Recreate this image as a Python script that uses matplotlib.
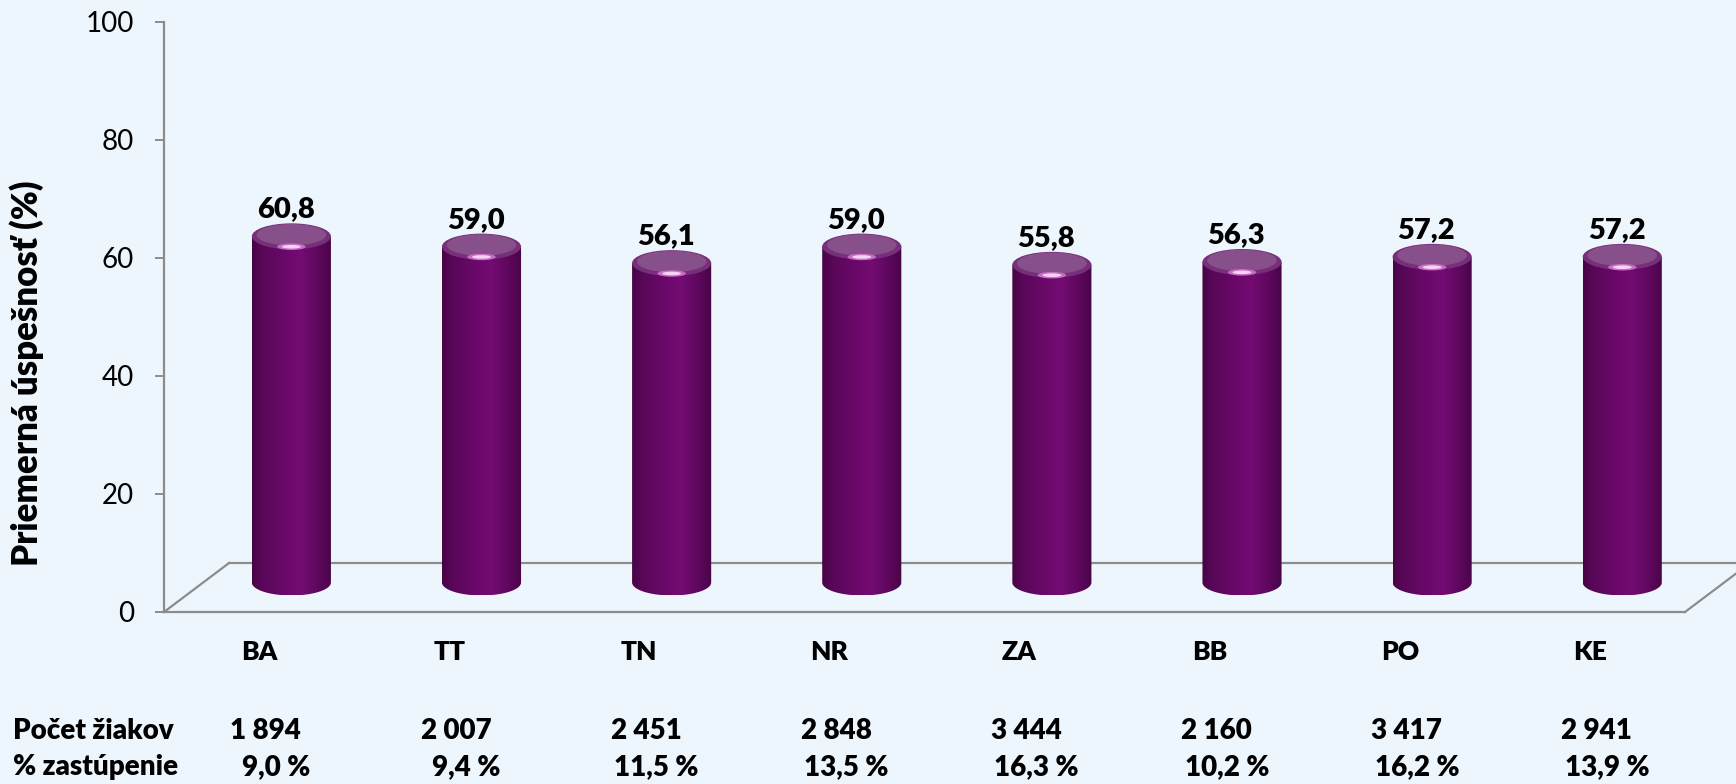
import numpy as np
import matplotlib.pyplot as plt
from matplotlib.path import Path
from matplotlib.patches import PathPatch, Ellipse
from matplotlib.colors import LinearSegmentedColormap
from matplotlib import transforms

# data
regions = ['BA', 'TT', 'TN', 'NR', 'ZA', 'BB', 'PO', 'KE']
success = [60.8, 59.0, 56.1, 59.0, 55.8, 56.3, 57.2, 57.2]
pupils = ['1 894', '2 007', '2 451', '2 848', '3 444', '2 160', '3 417', '2 941']
shares = ['9,0 %', '9,4 %', '11,5 %', '13,5 %', '16,3 %', '10,2 %', '16,2 %', '13,9 %']

plt.rcParams['font.family'] = ['Lato', 'DejaVu Sans']

bg = '#eef6fd'
grey = '#8c8c8c'
heavy = 'heavy'

fig = plt.figure(figsize=(17.36, 7.84), dpi=100, facecolor=bg)
ax = fig.add_axes([164 / 1736, 172 / 784, 1521 / 1736, 590 / 784])
ax.set_facecolor('none')

# pseudo 3d floor
dx, dy = 0.342, 8.3
n = len(regions)
ax.plot([0, dx], [0, dy], color=grey, lw=1.6, clip_on=False, zorder=1)
ax.plot([dx, n + dx], [dy, dy], color=grey, lw=1.6, clip_on=False, zorder=1)
ax.plot([n, n + dx], [0, dy], color=grey, lw=1.6, clip_on=False, zorder=1)
ax.plot([0, n], [0, 0], color=grey, lw=1.6, clip_on=False, zorder=1)

# cylinder look
body_cmap = LinearSegmentedColormap.from_list('cyl', [
    (0.0, '#460443'), (0.12, '#580758'), (0.45, '#6c096b'),
    (0.62, '#730c73'), (0.85, '#5c075c'), (1.0, '#480547')])
grad = np.linspace(0, 1, 256).reshape(1, -1)

width = 0.416
shift = 0.17
base = 5.0
scale = 0.965
e = 2.2
t_ang = np.linspace(np.pi, 2 * np.pi, 60)

for i, v in enumerate(success):
    c = i + 0.5 + shift
    x0, x1 = c - width / 2, c + width / 2
    top = base + v * scale
    ex = c + width / 2 * np.cos(t_ang)
    ey = base + e * np.sin(t_ang)
    verts = [(x0, top)] + list(zip(ex, ey)) + [(x1, top), (x0, top)]
    body = PathPatch(Path(verts), facecolor='none', edgecolor='none')
    ax.add_patch(body)
    im = ax.imshow(grad, extent=(x0, x1, base - e, top), aspect='auto',
                   cmap=body_cmap, zorder=3, interpolation='bilinear')
    im.set_clip_path(body)
    # top cap
    ax.add_patch(Ellipse((c, top), width, 2 * e, facecolor='#76307a',
                         edgecolor='none', zorder=4))
    ax.add_patch(Ellipse((c, top + 0.12 * e), width * 0.88, 1.65 * e,
                         facecolor='#88508b', edgecolor='none', zorder=4))
    ax.add_patch(Ellipse((c, top - 0.8 * e), width * 0.36, 0.5 * e,
                         facecolor='#c86cc4', edgecolor='none', zorder=5))
    ax.add_patch(Ellipse((c, top - 0.8 * e), width * 0.24, 0.28 * e,
                         facecolor='#f7d2f5', edgecolor='none', zorder=5))
    ax.text(c - 0.03, top + e + 1.0, f'{v:.1f}'.replace('.', ','),
            ha='center', va='baseline', fontsize=21, fontweight=heavy, zorder=6)

ax.set_xlim(0, n)
ax.set_ylim(0, 100)

# axes styling
for s in ['top', 'right', 'bottom']:
    ax.spines[s].set_visible(False)
ax.spines['left'].set_color(grey)
ax.spines['left'].set_linewidth(1.6)
ax.set_xticks([])
ax.set_yticks(np.arange(0, 101, 20))
ax.tick_params(axis='y', length=6.5, width=1.4, color=grey, pad=15, labelsize=20)
ax.set_ylabel('Priemerná úspešnosť (%)', fontsize=25, fontweight=heavy)
ax.yaxis.set_label_coords(-0.079, 0.405)

# category labels
for i, r in enumerate(regions):
    ax.text(i + 0.5, -6.8, r, ha='center', va='center', fontsize=19,
            fontweight=heavy, clip_on=False)

# table under the chart
tr = transforms.blended_transform_factory(ax.transData, fig.transFigure)
fig.text(13 / 1736, 1 - 731 / 784, 'Počet žiakov', ha='left', va='center',
         fontsize=20, fontweight=heavy)
fig.text(13 / 1736, 1 - 767 / 784, '% zastúpenie', ha='left', va='center',
         fontsize=20, fontweight=heavy)
for i in range(n):
    ax.text(i + 0.535, 1 - 731 / 784, pupils[i], transform=tr, ha='center',
            va='center', fontsize=20, fontweight=heavy)
    ax.text(i + 0.59, 1 - 767 / 784, shares[i], transform=tr, ha='center',
            va='center', fontsize=20, fontweight=heavy)

fig.savefig('out.png', dpi=100, facecolor=bg)
